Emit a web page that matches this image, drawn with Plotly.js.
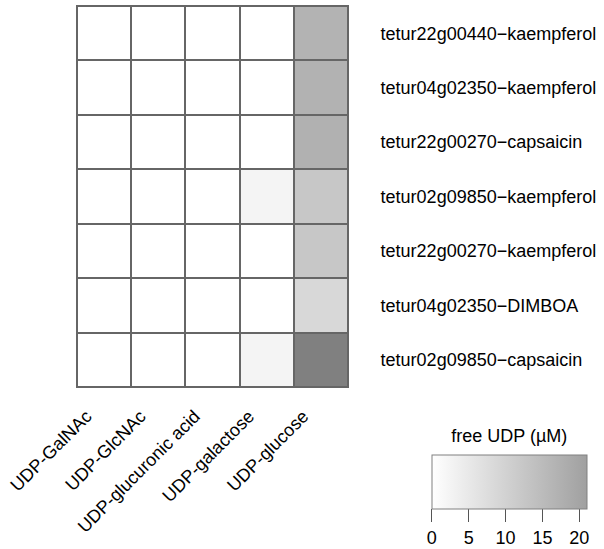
<!DOCTYPE html>
<html>
<head>
<meta charset="utf-8">
<script src="https://cdn.plot.ly/plotly-3.0.1.min.js"></script>
<style>html,body{margin:0;padding:0;background:#fff;}#chart{width:604px;height:549px;}</style>
</head>
<body>
<div id="chart"></div>
<script>
// Substrates (columns)
const substrates = ['UDP-GalNAc', 'UDP-GlcNAc', 'UDP-glucuronic acid', 'UDP-galactose', 'UDP-glucose'];
// Enzyme-acceptor pairs (rows, top to bottom)
const pairs = [
  'tetur22g00440\u2212kaempferol',
  'tetur04g02350\u2212kaempferol',
  'tetur22g00270\u2212capsaicin',
  'tetur02g09850\u2212kaempferol',
  'tetur22g00270\u2212kaempferol',
  'tetur04g02350\u2212DIMBOA',
  'tetur02g09850\u2212capsaicin'
];
// free UDP (µM) per substrate, in row order
const udpGalNAc      = [0, 0, 0, 0, 0, 0, 0];
const udpGlcNAc      = [0, 0, 0, 0, 0, 0, 0];
const udpGlucuronic  = [0, 0, 0, 0, 0, 0, 0];
const udpGalactose   = [0, 0, 0, 2.4, 0, 0, 2.4];
const udpGlucose     = [16.8, 17.0, 17.3, 12.4, 12.4, 8.6, 28.1];
// colour bar ticks
const cbTicks = [0, 5, 10, 15, 20];

const columns = [udpGalNAc, udpGlcNAc, udpGlucuronic, udpGalactose, udpGlucose];
const z = pairs.map((p, i) => columns.map(col => col[i]));

const font = {family: 'Liberation Sans, Arial, sans-serif', size: 18, color: '#000'};

const main = {
  type: 'heatmap',
  x: substrates, y: pairs, z: z,
  zmin: 0, zmax: 56.4,
  colorscale: [[0, 'rgb(255,255,255)'], [1, 'rgb(0,0,0)']],
  showscale: false,
  xgap: 2, ygap: 2,
  hoverinfo: 'skip'
};
const legendTrace = {
  type: 'heatmap',
  x: substrates, y: pairs, z: z,
  zmin: 0, zmax: 21,
  colorscale: [[0, 'rgb(255,255,255)'], [1, 'rgb(160,160,160)']],
  opacity: 0,
  hoverinfo: 'skip',
  showscale: true,
  colorbar: {
    orientation: 'h',
    x: 1.595, xanchor: 'center',
    y: -0.127, yanchor: 'top',
    lenmode: 'pixels', len: 155,
    thicknessmode: 'pixels', thickness: 54,
    xpad: 0, ypad: 0,
    outlinewidth: 1, outlinecolor: '#808080',
    ticks: 'outside', ticklen: 13, tickwidth: 1, tickcolor: '#555',
    tickvals: cbTicks,
    tickfont: font,
    title: {text: 'free UDP (µM)', side: 'top', font: font}
  }
};

const layout = {
  width: 604, height: 549, autosize: false,
  margin: {l: 77, r: 256, t: 6, b: 162, pad: 0, autoexpand: false},
  paper_bgcolor: '#fff',
  plot_bgcolor: '#666',
  font: font,
  showlegend: false,
  xaxis: {
    type: 'category', categoryorder: 'array', categoryarray: substrates,
    tickangle: -45, ticks: '', ticklabelstandoff: -7,
    ticksuffix: '\u00a0\u00a0\u00a0\u00a0\u00a0',
    showgrid: false, zeroline: false,
    showline: true, mirror: true, linecolor: '#666', linewidth: 1,
    tickfont: font, fixedrange: true
  },
  yaxis: {
    type: 'category', categoryorder: 'array', categoryarray: pairs,
    autorange: 'reversed', side: 'right', ticks: '', ticklabelstandoff: 28,
    showgrid: false, zeroline: false,
    showline: true, mirror: true, linecolor: '#666', linewidth: 1,
    tickfont: font, fixedrange: true
  }
};

Plotly.newPlot('chart', [main, legendTrace], layout, {displayModeBar: false, staticPlot: true});
</script>
</body>
</html>
